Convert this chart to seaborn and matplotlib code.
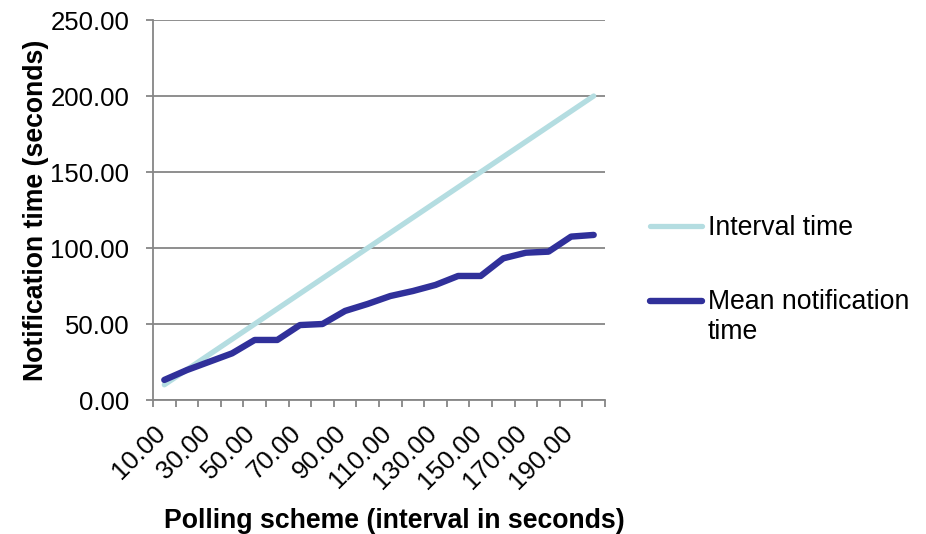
import matplotlib
matplotlib.use("Agg")
import matplotlib.pyplot as plt
from matplotlib.legend_handler import HandlerLine2D
from matplotlib.transforms import ScaledTranslation
import seaborn as sns
import pandas as pd

# Polling intervals (seconds)
intervals = [10, 20, 30, 40, 50, 60, 70, 80, 90, 100,
             110, 120, 130, 140, 150, 160, 170, 180, 190, 200]
# Interval time equals the polling interval itself
interval_time = [10, 20, 30, 40, 50, 60, 70, 80, 90, 100,
                 110, 120, 130, 140, 150, 160, 170, 180, 190, 200]
# Measured mean notification time (seconds)
mean_notification = [13.2, 19.7, 25.2, 30.7, 39.5, 39.5, 49.3, 50.0, 58.6, 63.2,
                     68.4, 71.7, 75.7, 81.6, 81.6, 93.2, 96.9, 97.6, 107.5, 108.6]
series_names = ["Interval time", "Mean notification\ntime"]
series_colors = ["#B4DDE1", "#30309A"]
y_ticks = [0, 50, 100, 150, 200, 250]

FS_TICK = 18.5
FS_TEXT = 19.2
GRID = "#868686"

df = pd.concat([
    pd.DataFrame({"interval": intervals, "value": interval_time, "series": series_names[0]}),
    pd.DataFrame({"interval": intervals, "value": mean_notification, "series": series_names[1]}),
])

sns.set_style("white")
plt.rcParams["font.family"] = ["Liberation Sans", "DejaVu Sans"]
plt.rcParams["text.color"] = "black"

fig = plt.figure(figsize=(9.26, 5.34), dpi=100)
ax = fig.add_axes([153 / 926, 1 - 400 / 534, (605 - 153) / 926, 380 / 534])

sns.lineplot(data=df, x="interval", y="value", hue="series",
             palette=dict(zip(series_names, series_colors)),
             ax=ax, legend=False, sort=False)
widths = [3.8, 4.6]
for line, w in zip(ax.lines, widths):
    line.set_linewidth(w)
    line.set_solid_capstyle("round")
    line.set_solid_joinstyle("round")

# y axis
ax.set_ylim(0, 250)
ax.set_yticks(y_ticks)
ax.set_yticklabels([f"{v:.2f}" for v in y_ticks])
ax.yaxis.grid(True, color=GRID, linewidth=1.3)
ax.set_axisbelow(True)

# x axis laid out as categories: ticks at boundaries, labels at centres
ax.set_xlim(intervals[0] - 5, intervals[-1] + 5)
bounds = [v - 5 for v in intervals] + [intervals[-1] + 5]
ax.set_xticks(bounds)
ax.set_xticklabels([])
ax.set_xticks(intervals[::2], minor=True)
ax.set_xticklabels([f"{v:.2f}" for v in intervals[::2]], minor=True,
                   rotation=45, ha="right", va="top", rotation_mode="anchor")
ax.tick_params(axis="x", which="major", direction="out", length=5, width=1.3,
               color=GRID, bottom=True)
ax.tick_params(axis="x", which="minor", length=0, pad=15, labelsize=FS_TICK,
               labelcolor="black")
ax.tick_params(axis="y", direction="out", length=5, width=1.3, color=GRID,
               left=True, pad=12, labelsize=FS_TICK, labelcolor="black")

# nudge the slanted category labels so their ends sit under the category centre
shift = ScaledTranslation(-8 / 72, 0, fig.dpi_scale_trans)
for lbl in ax.get_xticklabels(minor=True):
    lbl.set_transform(lbl.get_transform() + shift)

for side in ["top", "right"]:
    ax.spines[side].set_visible(False)
for side in ["left", "bottom"]:
    ax.spines[side].set_color(GRID)
    ax.spines[side].set_linewidth(1.3)

ax.set_xlabel("Polling scheme (interval in seconds)", fontsize=FS_TEXT,
              fontweight="bold", labelpad=10, color="black")
ax.xaxis.label.set_x(0.533)
ax.set_ylabel("Notification time (seconds)", fontsize=FS_TEXT,
              fontweight="bold", labelpad=1, color="black")


class FirstLineHandler(HandlerLine2D):
    """Place the legend line beside the first line of a two-line label."""

    def create_artists(self, legend, orig_handle, xdescent, ydescent,
                       width, height, fontsize, trans):
        artists = super().create_artists(legend, orig_handle, xdescent, ydescent,
                                         width, height, fontsize, trans)
        for a in artists:
            if hasattr(a, "get_ydata"):
                a.set_ydata([y + 0.62 * fontsize for y in a.get_ydata()])
        return artists


handles = [plt.Line2D([], [], color=c, linewidth=w, solid_capstyle="round")
           for c, w in zip(series_colors, widths)]
leg = fig.legend(handles, series_names, loc="upper left",
                 bbox_to_anchor=(650 / 926, 1 - 215 / 534), frameon=False,
                 fontsize=FS_TEXT, handlelength=1.95, handletextpad=0.22,
                 labelspacing=1.8, borderaxespad=0, borderpad=0,
                 handler_map={handles[1]: FirstLineHandler()})

fig.savefig("out.png", dpi=100)
